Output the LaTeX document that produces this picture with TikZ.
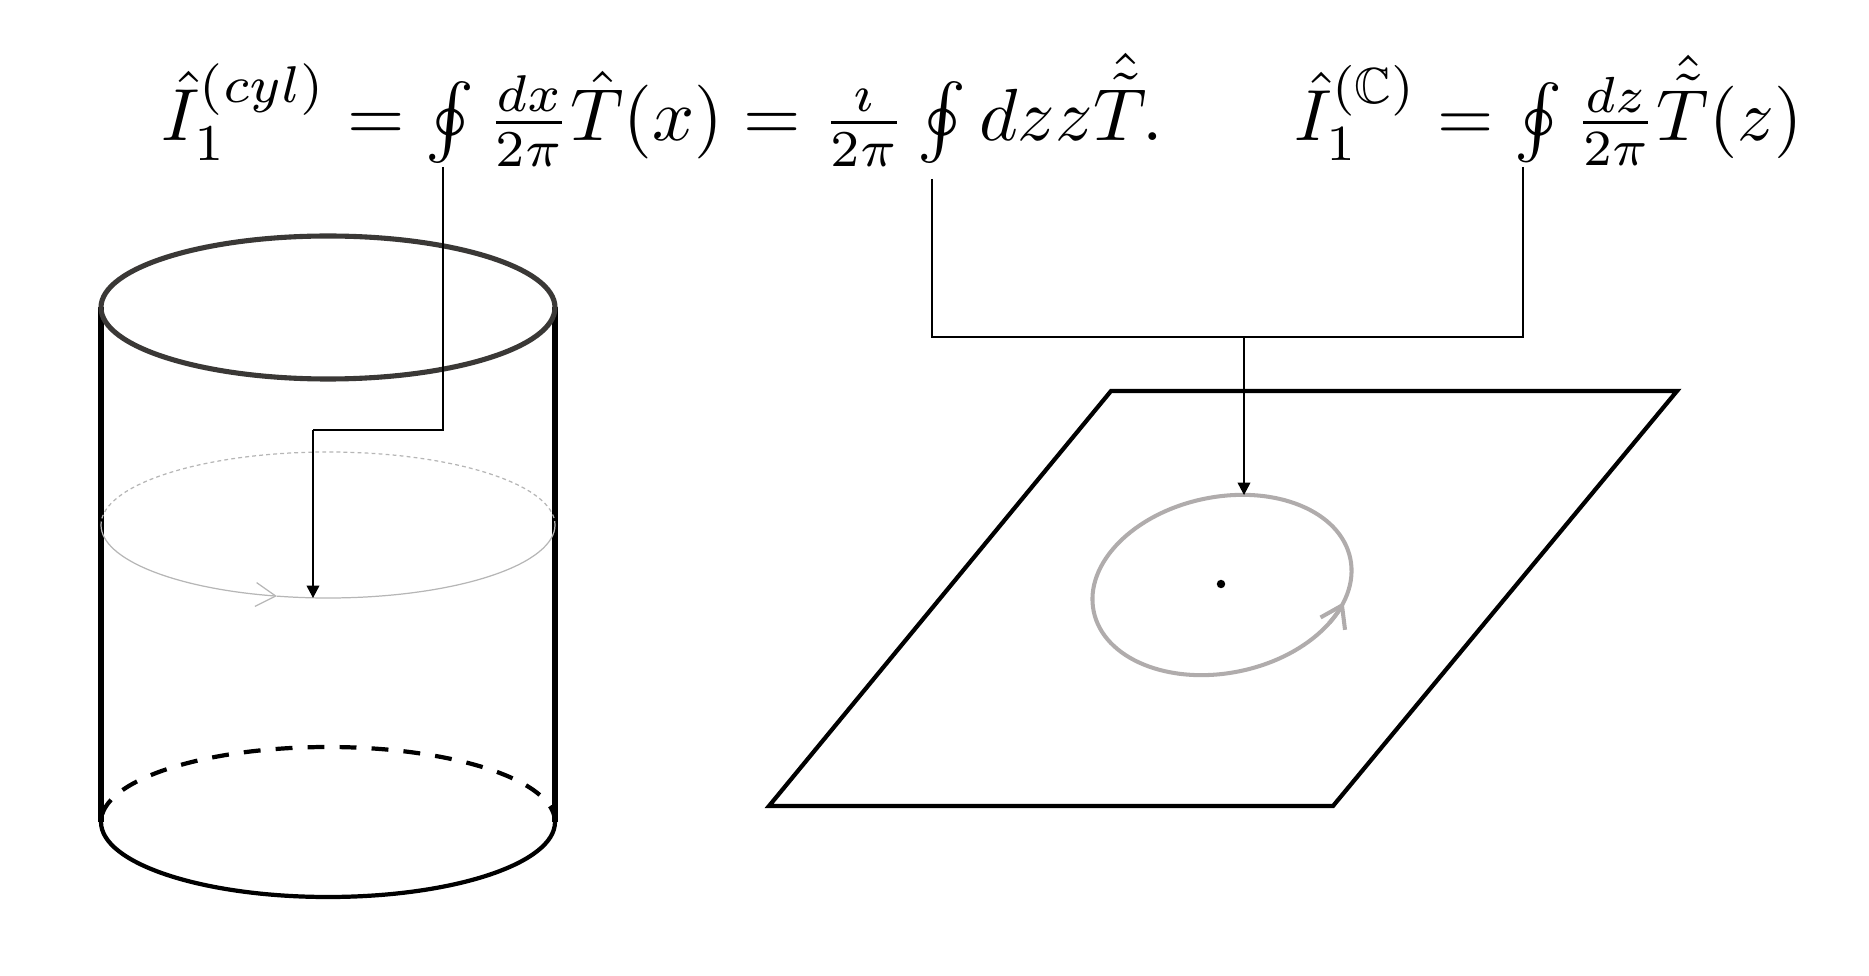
\documentclass[tikz,border=0pt]{standalone}
\usepackage{graphicx}
\usepackage{amsmath,amssymb}
\usetikzlibrary{arrows.meta}
\definecolor{rimgray}{RGB}{58,56,54}
\definecolor{loopgray}{RGB}{182,182,182}
\definecolor{contgray}{RGB}{176,172,172}
\newcommand{\fscale}{2.1}
\newcommand{\fscaleC}{2.06}
\begin{document}
\begin{tikzpicture}[x=0.01cm,y=0.01cm,
  formula/.style={inner sep=0pt, anchor=base west},
  sideline/.style={line width=1.45pt, black},
  toprim/.style={line width=1.45pt, draw=rimgray},
  botrim/.style={line width=1.2pt, black},
  midloop/.style={line width=0.35pt, draw=loopgray},
  conn/.style={line width=0.4pt, black},
  conntip/.style={-{Triangle[length=3.5pt,width=3.6pt]}},
  plane/.style={line width=1.2pt, black, line join=miter},
  contour/.style={line width=1.15pt, draw=contgray}]
\useasboundingbox (0,0) rectangle (1869,975);

% formulas
\node[formula] (fcyl) at (161,834) {\scalebox{\fscale}{$\hat{I}_1^{(cyl)} = \oint \frac{dx}{2\pi}\hat{T}(x) = \frac{\imath}{2\pi}\oint dz z\hat{\tilde{T}}.$}};
\node[formula] (fC) at (1294,834) {\scalebox{\fscaleC}{$\hat{I}_1^{(\mathbb{C})} = \oint \frac{dz}{2\pi}\hat{\tilde{T}}(z)$}};

% cylinder
\draw[sideline] (101,668) -- (101,153);
\draw[sideline] (555,668) -- (555,153);
\draw[botrim] (101,153) arc[start angle=180,end angle=360,x radius=227,y radius=75];
\draw[botrim,dash pattern=on 4.8pt off 4.3pt] (555,153) arc[start angle=0,end angle=180,x radius=227,y radius=75];
\draw[midloop,dash pattern=on 1.1pt off 0.9pt] (555,450) arc[start angle=0,end angle=180,x radius=227,y radius=73];
\draw[midloop,-{Straight Barb[length=5.7pt,width=6.8pt]}] (101,450) arc[start angle=180,end angle=257,x radius=227,y radius=73];
\draw[midloop] (328,450) ++(257:227 and 73) arc[start angle=257,end angle=360,x radius=227,y radius=73];
\draw[toprim] (328,667.5) ellipse[x radius=227,y radius=71.5];

% plane
\draw[plane] (1111,584) -- (1677,584) -- (1333,169) -- (769,169) -- cycle;
\begin{scope}[shift={(1222,390)}, rotate=11.6]
  \draw[contour] (0,0) ellipse[x radius=131,y radius=88];
  \draw[contour,-{Straight Barb[length=5.8pt,width=7.8pt]}] (-42:131 and 88) arc[start angle=-42,end angle=-28,x radius=131,y radius=88];
\end{scope}
\fill (1221,391) circle[radius=1.2pt];

% connector points
\coordinate (o1) at (443,808);
\coordinate (k1) at (443,545);
\coordinate (k2) at (313,545);
\coordinate (t1) at (313,377);
\coordinate (o2) at (932,796);
\coordinate (o3) at (1523,808);
\coordinate (j) at (1244,638);
\coordinate (t2) at (1244,480);

\draw[conn] (o1) -- (k1) -- (k2);
\draw[conn,conntip] (k2) -- (t1);
\draw[conn] (o2) |- (j);
\draw[conn] (o3) |- (j);
\draw[conn,conntip] (j) -- (t2);
\end{tikzpicture}
\end{document}
